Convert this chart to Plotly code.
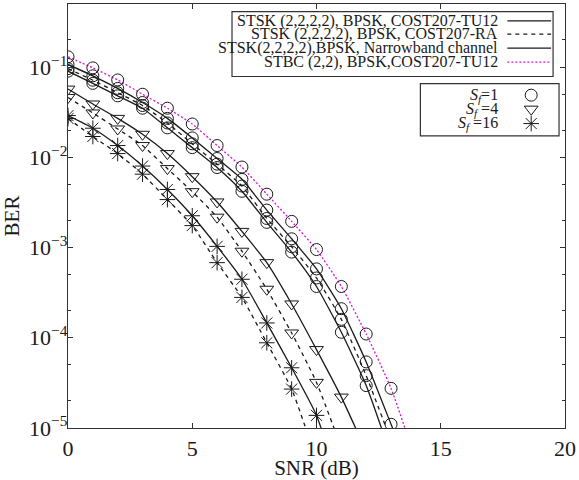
import math
import plotly.graph_objects as go

# SNR grid (dB); each curve uses the first len(values) points
snr = list(range(0, 15))

# BER curves
ber_stbc_tu12_sf1 = [0.13, 0.098, 0.072, 0.050, 0.035, 0.0234, 0.0135, 0.0078, 0.0039,
                     0.00195, 9.5e-4, 3.7e-4, 1.1e-4, 2.75e-5, 4.3e-6]
ber_stsk_tu12_sf1 = [0.107, 0.080, 0.058, 0.0405, 0.027, 0.0164, 0.0097, 0.0057, 0.0026,
                     0.00125, 5.8e-4, 2.1e-4, 5.4e-5, 1.1e-5, 2.2e-6]
ber_stsk_ra_sf1 = [0.096, 0.0715, 0.052, 0.0375, 0.024, 0.0141, 0.0084, 0.0048, 0.0021,
                   0.00102, 4.6e-4, 1.6e-4, 3.8e-5, 7.2e-6]
ber_stsk_nb_sf1 = [0.090, 0.066, 0.048, 0.035, 0.0212, 0.0128, 0.0077, 0.0042, 0.0019,
                   8.9e-4, 3.7e-4, 1.15e-4, 2.95e-5, 4.9e-6]
ber_stsk_tu12_sf4 = [0.057, 0.039, 0.027, 0.018, 0.011, 0.0061, 0.0032, 0.00151, 6.8e-4,
                     2.37e-4, 7.4e-5, 2.2e-5, 5.5e-6]
ber_stsk_ra_sf4 = [0.046, 0.031, 0.0206, 0.0135, 0.0075, 0.00416, 0.00217, 9.1e-4, 3.45e-4,
                   1.13e-4, 3.2e-5, 6e-6]
ber_stsk_tu12_sf16 = [0.029, 0.021, 0.0135, 0.008, 0.0044, 0.00225, 0.00103, 4.45e-4,
                      1.46e-4, 4.65e-5, 1.38e-5, 2e-6]
ber_stsk_ra_sf16 = [0.0269, 0.017, 0.011, 0.0065, 0.0034, 0.00175, 6.8e-4, 2.8e-4, 8.8e-5,
                    2.7e-5, 4.4e-6]

# Legend entries
channel_labels = ["STSK (2,2,2,2), BPSK, COST207-TU12",
                  "STSK (2,2,2,2), BPSK, COST207-RA",
                  "STSK(2,2,2,2),BPSK, Narrowband channel",
                  "STBC (2,2), BPSK,COST207-TU12"]
sf_labels = ["<i>S</i><sub><i>f</i></sub>=1",
             "<i>S</i><sub><i>f</i></sub> =4",
             "<i>S</i><sub><i>f</i></sub> =16"]

# Axis ticks
x_ticks = [0, 5, 10, 15, 20]
y_ticks = [1e-5, 1e-4, 1e-3, 1e-2, 1e-1]
y_ticktext = ["10<sup>−5</sup>", "10<sup>−4</sup>", "10<sup>−3</sup>",
              "10<sup>−2</sup>", "10<sup>−1</sup>"]
y_minor = [m * 10.0 ** e for e in range(-5, 0) for m in (2, 5)]

FONT = "Liberation Serif"
INK = "#1a1a1a"
MAGENTA = "#e010e0"

solid = dict(color=INK, width=1.3)
dashed = dict(color=INK, width=1.3, dash="4px,4px")
dotted = dict(color=MAGENTA, width=1.3, dash="2px,2px")

circle = dict(symbol="circle-open", size=12, color=INK, line=dict(width=1, color=INK))
tri = dict(symbol="triangle-down-open", size=12, color=INK, line=dict(width=1, color=INK))
star = dict(symbol="asterisk-open", size=13, color=INK, line=dict(width=1, color=INK))

curves = [
    (ber_stsk_ra_sf16, dashed, star),
    (ber_stsk_tu12_sf16, solid, star),
    (ber_stsk_ra_sf4, dashed, tri),
    (ber_stsk_tu12_sf4, solid, tri),
    (ber_stsk_nb_sf1, solid, circle),
    (ber_stsk_ra_sf1, dashed, circle),
    (ber_stsk_tu12_sf1, solid, circle),
    (ber_stbc_tu12_sf1, dotted, circle),
]

fig = go.Figure()
for vals, line, marker in curves:
    fig.add_trace(go.Scatter(x=snr[:len(vals)], y=vals, mode="lines+markers",
                             line=dict(shape="spline", smoothing=0.5, **line),
                             marker=marker, showlegend=False))

# Legend boxes (paper coordinates = plot area)
box1 = dict(x0=0.330, x1=0.976, y0=0.829, y1=0.982)
box2 = dict(x0=0.709, x1=0.988, y0=0.689, y1=0.812)
for b in (box1, box2):
    fig.add_shape(type="rect", xref="paper", yref="paper", **b,
                  line=dict(color="#333", width=1.2), fillcolor="white", layer="below")

row1_y = [0.960, 0.929, 0.896, 0.863]
row2_y = [0.785, 0.752, 0.718]
text_right = 0.870

for lbl, yy in zip(channel_labels, row1_y):
    fig.add_annotation(x=text_right, y=yy, xref="paper", yref="paper", text=lbl,
                       showarrow=False, xanchor="right", yanchor="middle",
                       font=dict(family=FONT, size=16, color=INK))
for lbl, yy in zip(sf_labels, row2_y):
    fig.add_annotation(x=text_right, y=yy, xref="paper", yref="paper", text=lbl,
                       showarrow=False, xanchor="right", yanchor="middle",
                       font=dict(family=FONT, size=16, color=INK))

# Legend samples drawn on an overlay axis spanning the plot area
for line, yy in zip([solid, dashed, solid, dotted], row1_y):
    fig.add_trace(go.Scatter(x=[0.884, 0.972], y=[yy, yy], mode="lines", line=line,
                             xaxis="x2", yaxis="y2", showlegend=False, hoverinfo="skip"))
for marker, yy in zip([circle, tri, star], row2_y):
    fig.add_trace(go.Scatter(x=[0.932], y=[yy], mode="markers", marker=marker,
                             xaxis="x2", yaxis="y2", showlegend=False, hoverinfo="skip"))

axis_common = dict(showline=True, linecolor="#333", linewidth=1.3, mirror="ticks",
                   ticks="inside", ticklen=5, tickwidth=1, tickcolor="#333",
                   showgrid=False, zeroline=False,
                   tickfont=dict(family=FONT, size=22, color=INK))

fig.update_layout(
    width=579, height=480,
    margin=dict(l=68, r=12, t=3, b=50),
    paper_bgcolor="white", plot_bgcolor="white",
    font=dict(family=FONT, color=INK),
    xaxis=dict(range=[0, 20], tickmode="array", tickvals=x_ticks,
               title=dict(text="SNR (dB)", font=dict(family=FONT, size=21, color=INK),
                          standoff=2),
               **axis_common),
    yaxis=dict(type="log", range=[-5, math.log10(0.5)], tickmode="array",
               tickvals=y_ticks, ticktext=y_ticktext, ticklabelstandoff=-5,
               minor=dict(ticks="inside", ticklen=3, tickvals=y_minor, tickcolor="#333"),
               title=dict(text="BER", font=dict(family=FONT, size=21, color=INK),
                          standoff=10),
               **axis_common),
    xaxis2=dict(overlaying="x", anchor="y2", range=[0, 1], visible=False),
    yaxis2=dict(overlaying="y", anchor="x2", range=[0, 1], visible=False),
)

fig.write_html("out.html")
